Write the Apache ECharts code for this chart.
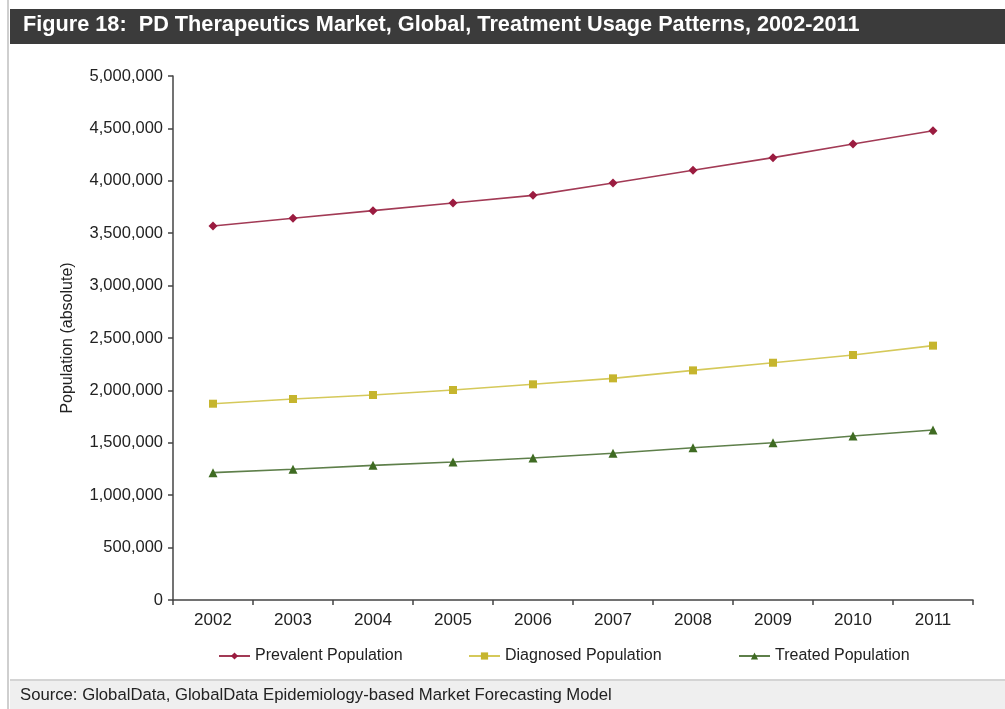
<!DOCTYPE html>
<html>
<head>
<meta charset="utf-8">
<script src="https://cdn.jsdelivr.net/npm/echarts@6/dist/echarts.min.js"></script>
<style>
  html, body { margin: 0; padding: 0; background: #ffffff; }
  #chart { width: 1005px; height: 709px; }
</style>
</head>
<body>
<div id="chart"></div>
<script>
// Years on the category axis
const years = ['2002', '2003', '2004', '2005', '2006', '2007', '2008', '2009', '2010', '2011'];

// Patient populations (absolute)
const prevalent = [3569000, 3643000, 3715000, 3788000, 3861000, 3979000, 4100000, 4221000, 4351000, 4478000];
const diagnosed = [1873000, 1918000, 1956000, 2004000, 2058000, 2115000, 2191000, 2264000, 2338000, 2427000];
const treated   = [1215000, 1247000, 1285000, 1317000, 1355000, 1400000, 1453000, 1501000, 1565000, 1622000];

const seriesNames = ['Prevalent Population', 'Diagnosed Population', 'Treated Population'];

const titleText = 'Figure 18:  PD Therapeutics Market, Global, Treatment Usage Patterns, 2002-2011';
const sourceText = 'Source: GlobalData, GlobalData Epidemiology-based Market Forecasting Model';

const chart = echarts.init(document.getElementById('chart'), null, { renderer: 'canvas' });

const fmt = v => v.toLocaleString('en-US');
const baseFont = 'Liberation Sans, Arial, sans-serif';
const legendText = { fontSize: 16, color: '#222222', fontFamily: baseFont };

// One legend per series so each entry sits at its own position
const legendLefts = [218, 468, 738];
const legends = seriesNames.map((name, i) => ({
  data: [name],
  left: legendLefts[i], top: 648,
  padding: 0,
  itemWidth: 31, itemHeight: 9, itemGap: 0,
  textStyle: legendText
}));

chart.setOption({
  backgroundColor: '#ffffff',
  animation: false,
  textStyle: { fontFamily: baseFont },
  graphic: [
    { type: 'rect', shape: { x: 7, y: 0, width: 2, height: 709 }, style: { fill: '#cfcfcf' }, silent: true },
    { type: 'rect', shape: { x: 10, y: 9, width: 995, height: 35 }, style: { fill: '#3b3b3b' }, silent: true },
    {
      type: 'text', left: 23, top: 14,
      style: {
        text: titleText, fill: '#ffffff',
        font: 'bold 21.7px "Liberation Sans", Arial, sans-serif'
      },
      silent: true
    },
    { type: 'rect', shape: { x: 10, y: 680, width: 995, height: 29 }, style: { fill: '#efefef' }, silent: true },
    { type: 'rect', shape: { x: 10, y: 679, width: 995, height: 2 }, style: { fill: '#d4d4d4' }, silent: true },
    {
      type: 'text', left: 20, top: 687,
      style: {
        text: sourceText, fill: '#222222',
        font: '16.7px "Liberation Sans", Arial, sans-serif'
      },
      silent: true
    }
  ],
  grid: { left: 173, right: 32, top: 76, bottom: 109, containLabel: false },
  legend: legends,
  xAxis: {
    type: 'category',
    data: years,
    boundaryGap: true,
    axisLine: { lineStyle: { color: '#444444', width: 1.5 } },
    axisTick: { show: true, length: 5, alignWithLabel: false, lineStyle: { color: '#444444', width: 1.5 } },
    axisLabel: { color: '#222222', fontSize: 17, margin: 12 },
    splitLine: { show: false }
  },
  yAxis: {
    type: 'value',
    min: 0, max: 5000000, interval: 500000,
    name: 'Population (absolute)',
    nameLocation: 'middle',
    nameGap: 97,
    nameRotate: 90,
    nameTextStyle: { fontSize: 16, color: '#222222' },
    axisLine: { show: true, lineStyle: { color: '#444444', width: 1.5 } },
    axisTick: { show: true, length: 5, inside: false, lineStyle: { color: '#444444', width: 1.5 } },
    axisLabel: { color: '#222222', fontSize: 16.5, margin: 10, formatter: fmt },
    splitLine: { show: false }
  },
  series: [
    {
      name: seriesNames[0], type: 'line', data: prevalent,
      symbol: 'diamond', symbolSize: 9,
      lineStyle: { color: '#a23a55', width: 1.6 },
      itemStyle: { color: '#9b1c40' }
    },
    {
      name: seriesNames[1], type: 'line', data: diagnosed,
      symbol: 'rect', symbolSize: 8,
      lineStyle: { color: '#d5c95a', width: 1.6 },
      itemStyle: { color: '#c6b52e' }
    },
    {
      name: seriesNames[2], type: 'line', data: treated,
      symbol: 'triangle', symbolSize: 9,
      lineStyle: { color: '#5e7f4a', width: 1.6 },
      itemStyle: { color: '#3f6b22' }
    }
  ]
});
</script>
</body>
</html>
